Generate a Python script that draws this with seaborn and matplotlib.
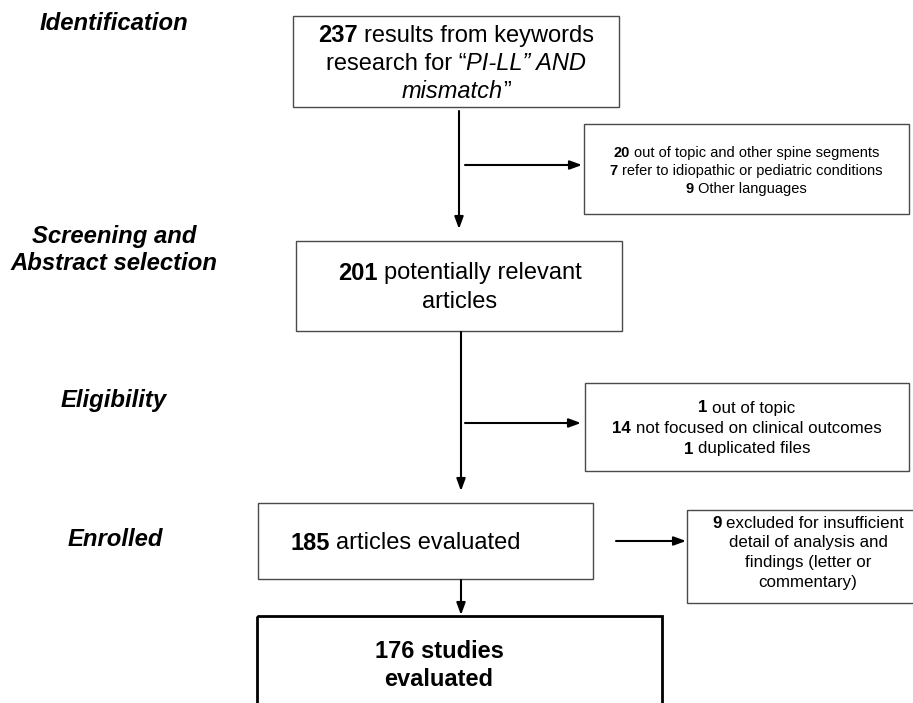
import matplotlib
matplotlib.use("Agg")
import matplotlib.pyplot as plt
import seaborn as sns
from matplotlib.patches import Rectangle

# ---- data ----
stage_labels = ["Identification", "Screening and", "Abstract selection", "Eligibility", "Enrolled"]
main_counts = [237, 201, 185, 176]
excl_identification = [(20, "out of topic and other spine segments"),
                       (7, "refer to idiopathic or pediatric conditions"),
                       (9, "Other languages")]
excl_eligibility = [(1, "out of topic"),
                    (14, "not focused on clinical outcomes"),
                    (1, "duplicated files")]
excl_enrolled_count = 9
excl_enrolled_lines = ["excluded for insufficient", "detail of analysis and",
                       "findings (letter or", "commentary)"]

sns.set_theme(style="white")
plt.rcParams['font.family'] = ['Liberation Sans', 'DejaVu Sans']

W, H = 913, 703
fig = plt.figure(figsize=(W / 100, H / 100), dpi=100)
ax = fig.add_axes([0, 0, 1, 1])
ax.set_xlim(0, W)
ax.set_ylim(H, 0)
ax.axis("off")
sns.despine(ax=ax, left=True, bottom=True)
renderer = fig.canvas.get_renderer()


def text_width(s, size, weight="normal", style="normal"):
    t = ax.text(0, 0, s, fontsize=size, fontweight=weight, fontstyle=style)
    w = t.get_window_extent(renderer).width
    t.remove()
    return w


def rich_line(x, y, parts, size, align="center"):
    """parts: list of (text, weight, style); a leading space means a space gap."""
    sp = text_width("x x", size) - text_width("xx", size)
    items = []
    total = 0
    for s, wt, st in parts:
        gap = 0
        if s.startswith(" "):
            gap = sp
            s = s[1:]
        w = text_width(s, size, wt, st)
        items.append((s, wt, st, gap, w))
        total += gap + w
    cur = x - total / 2 if align == "center" else x
    for s, wt, st, gap, w in items:
        cur += gap
        ax.text(cur, y, s, fontsize=size, fontweight=wt, fontstyle=st,
                ha="left", va="center", color="black")
        cur += w


def box(x0, y0, x1, y1, lw=1.0, ec="#4a4a4a"):
    ax.add_patch(Rectangle((x0, y0), x1 - x0, y1 - y0, fill=False, lw=lw, ec=ec))


def arrow(x0, y0, x1, y1):
    ax.annotate("", xy=(x1, y1), xytext=(x0, y0),
                arrowprops=dict(arrowstyle="-|>,head_length=0.6,head_width=0.22",
                                lw=1.5, color="black", shrinkA=0, shrinkB=0))


# ---- stage labels ----
lab_kw = dict(fontsize=17.2, fontweight="bold", fontstyle="italic", ha="center",
              va="center", color="black")
ax.text(114, 24, stage_labels[0], **lab_kw)
ax.text(114, 237, stage_labels[1], **lab_kw)
ax.text(114, 263, stage_labels[2], **lab_kw)
ax.text(114, 401, stage_labels[3], **lab_kw)
ax.text(115, 540, stage_labels[4], **lab_kw)

# ---- main boxes ----
S = 17
box(293, 16, 619, 107)
rich_line(456, 36, [(str(main_counts[0]), "bold", "normal"),
                    (" results from keywords", "normal", "normal")], S)
rich_line(456, 64, [("research for \u201c", "normal", "normal"),
                    ("PI-LL\u201d AND", "normal", "italic")], S)
rich_line(456, 92, [("mismatch", "normal", "italic"),
                    ("\u201d", "normal", "normal")], S)

box(296, 241, 622, 331)
rich_line(460, 273, [(str(main_counts[1]), "bold", "normal"),
                     (" potentially relevant", "normal", "normal")], S)
rich_line(460, 302, [("articles", "normal", "normal")], S)

box(258, 503, 593, 579)
rich_line(290, 543, [(str(main_counts[2]), "bold", "normal"),
                     (" articles evaluated", "normal", "normal")], S, align="left")

box(257, 616, 662, 720, lw=2.0, ec="black")
rich_line(439, 651, [(f"{main_counts[3]} studies", "bold", "normal")], S)
rich_line(439, 679, [("evaluated", "bold", "normal")], S)

# ---- exclusion boxes ----
s1 = 10.5
box(584, 124, 909, 214)
for i, (n, txt) in enumerate(excl_identification):
    rich_line(746, 153 + i * 18, [(str(n), "bold", "normal"), (" " + txt, "normal", "normal")], s1)

s2 = 12.2
box(585, 383, 909, 471)
for i, (n, txt) in enumerate(excl_eligibility):
    rich_line(747, 408 + i * 20.5, [(str(n), "bold", "normal"), (" " + txt, "normal", "normal")], s2)

box(687, 510, 920, 603)
for i, txt in enumerate(excl_enrolled_lines):
    parts = [(txt, "normal", "normal")]
    if i == 0:
        parts = [(str(excl_enrolled_count), "bold", "normal"), (" " + txt, "normal", "normal")]
    rich_line(808, 523 + i * 20, parts, s2)

# ---- arrows ----
arrow(459, 111, 459, 229)
arrow(465, 165, 582, 165)
arrow(461, 332, 461, 491)
arrow(465, 423, 581, 423)
arrow(616, 541, 686, 541)
arrow(461, 580, 461, 615)

fig.savefig("out.png", dpi=100)
